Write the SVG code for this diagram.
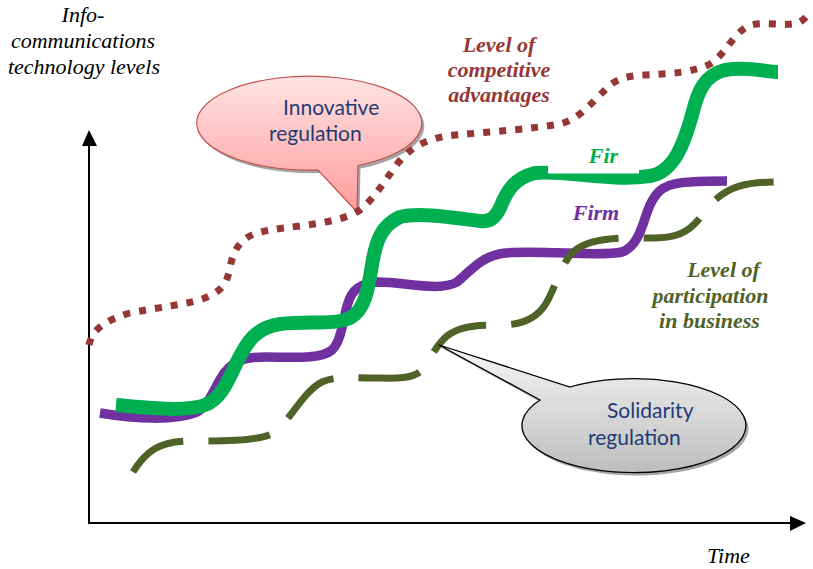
<svg xmlns="http://www.w3.org/2000/svg" width="813" height="569" viewBox="0 0 813 569">
<defs>
<linearGradient id="gPink" x1="0" y1="0" x2="0" y2="1">
<stop offset="0" stop-color="#FFE3E3"/>
<stop offset="1" stop-color="#FF9B9B"/>
</linearGradient>
<linearGradient id="gGray" x1="0" y1="0" x2="0" y2="1">
<stop offset="0" stop-color="#F7F7F7"/>
<stop offset="1" stop-color="#BDBDBD"/>
</linearGradient>
<style>
.serif{font-family:'Liberation Serif','Times New Roman',serif;font-style:italic;font-size:22px;}
.lbl{font-family:'Liberation Serif','Times New Roman',serif;font-style:italic;font-weight:bold;font-size:22px;text-anchor:middle;}
.call{font-family:Lato,"Open Sans",sans-serif;font-size:21px;fill:#1F3B73;}
.axis{stroke:#000;stroke-width:2;fill:none;}
.curve{fill:none;}
.shadow{fill:#7f7f7f;opacity:0.7;}
</style>
</defs>
<rect width="813" height="569" fill="#fff"/>

<g id="axes">
<line class="axis" x1="89" y1="144" x2="89" y2="524"/>
<polygon points="89,130 82,146 97,146" fill="#000"/>
<line class="axis" x1="88" y1="523" x2="792" y2="523"/>
<polygon points="806,523 790,516 790,531" fill="#000"/>
</g>

<g id="y-axis-label" class="serif" text-anchor="middle">
<text x="83" y="22">Info-</text>
<text x="83" y="48">communications</text>
<text x="84" y="74">technology levels</text>
</g>
<g id="x-axis-label"><text class="serif" x="707" y="563">Time</text></g>

<g id="innovative-regulation">
<path class="shadow" transform="translate(2.5,3)" d="M318,170 A112.5,47 0 1,1 358,165.5 L357,212 Z"/>
<path d="M318,170 A112.5,47 0 1,1 358,165.5 L357,212 Z" fill="url(#gPink)" stroke="#C0504D" stroke-width="1.2"/>
<text class="call" x="283" y="115">Innovative</text>
<text class="call" x="269" y="141">regulation</text>
</g>

<g id="connectors">
<path id="competitive" class="curve" stroke="#953735" stroke-width="7" stroke-dasharray="7 9" d="M89,345 C92,330 105,320 130,313 C160,307 190,304 205,298 C220,292 226,285 229,272 C232,258 234,248 245,239 C255,231 275,229 300,226 C330,222 348,218 360,210 C375,198 385,180 398,163 C410,148 425,138 455,135 C490,132 530,129 560,124 C580,119 592,102 603,92 C612,82 620,76 645,75 C670,74 695,72 710,64 C725,55 732,35 748,26 C765,20 785,28 800,22 C805,19 808,15 811,10"/>
<path id="firm" class="curve" stroke="#7030A0" stroke-width="9.5" d="M100,413 C135,419 175,421 197,412 C210,405 215,385 225,372 C235,360 245,357 265,357 C290,357 320,360 332,350 C342,340 343,318 348,303 C352,290 360,283 378,282 C405,282 440,292 457,282 C470,272 480,256 505,253 C545,250 600,257 622,252 C640,246 643,220 650,205 C657,190 665,183 690,182 C705,181 715,181 727,181"/>
<path id="fir" class="curve" stroke="#00B050" stroke-width="14" d="M116,405 C150,408 185,412 205,405 C222,398 228,380 237,362 C247,342 255,328 280,324 C310,321 335,325 350,318 C365,310 368,290 372,265 C376,240 382,225 400,217 C420,212 455,218 480,221 C490,222 495,218 500,208 C507,190 515,178 535,173 C565,170 610,182 650,176 C675,172 685,140 692,115 C698,90 705,75 725,70 C750,66 765,72 778,72"/>
<path id="participation" class="curve" stroke="#4F6228" stroke-width="7" stroke-dasharray="62 25" d="M133,472 C148,448 163,441 190,441 C230,441 262,441 275,432 C290,420 305,390 322,382 C335,376 350,378 370,378 C395,378 412,380 422,370 C430,360 436,345 447,336 C460,325 480,325 500,325 C520,325 535,320 545,305 C555,290 560,265 573,252 C585,242 600,239 625,238 C655,238 675,240 690,228 C700,220 705,210 715,200 C730,187 745,182 776,182"/>
</g>

<g id="solidarity-regulation">
<path class="shadow" transform="translate(2.5,3)" d="M570,387 A112,47 0 1,1 540,400 L439,345 Z"/>
<path d="M570,387 A112,47 0 1,1 540,400 L439,345 Z" fill="url(#gGray)" stroke="#000" stroke-width="1.3"/>
<text class="call" x="607" y="418">Solidarity</text>
<text class="call" x="588" y="445">regulation</text>
</g>

<g id="label-competitive" class="lbl" fill="#953735">
<text x="499" y="52">Level of</text>
<text x="499" y="77">competitive</text>
<text x="499" y="102">advantages</text>
</g>
<g id="label-fir"><rect x="548" y="150" width="91" height="23.5" fill="#fff"/><text class="lbl" fill="#00B050" x="603.5" y="163">Fir</text></g>
<g id="label-firm"><text class="lbl" fill="#7030A0" x="596" y="220">Firm</text></g>
<g id="label-participation" class="lbl" fill="#4F6228">
<text x="723.5" y="277">Level of</text>
<text x="710.5" y="303">participation</text>
<text x="709.5" y="328">in business</text>
</g>
</svg>
